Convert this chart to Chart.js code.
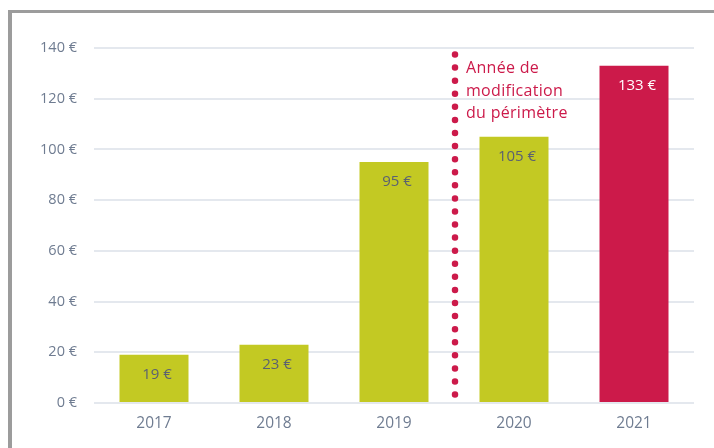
<!DOCTYPE html>
<html>
<head>
<meta charset="utf-8">
<script src="https://cdn.jsdelivr.net/npm/chart.js@4"></script>
<style>
  html, body { margin: 0; padding: 0; background: #fff; }
  #wrap { position: relative; width: 714px; height: 448px; }
  #frame { position: absolute; left: 8px; top: 10px; width: 720px; height: 460px;
           border-left: 4px solid #9c9c9c; border-top: 3px solid #9c9c9c; box-sizing: border-box; }
  canvas { position: absolute; left: 0; top: 0; }
</style>
</head>
<body>
<div id="wrap">
  <div id="frame"></div>
  <canvas id="c" width="714" height="448"></canvas>
</div>
<script>
const categories = ['2017', '2018', '2019', '2020', '2021'];
const values = [19, 23, 95, 105, 133];
const valueLabels = ['19 €', '23 €', '95 €', '105 €', '133 €'];
const yTicks = [0, 20, 40, 60, 80, 100, 120, 140];
const annotationLines = ['Année de', 'modification', 'du périmètre'];
const changeAfterCategory = '2019';

const GREEN = '#c3c923';
const RED = '#cc1a4a';
const FONT = '"Open Sans", Lato, sans-serif';

const barColors = categories.map((c, i) => i === categories.length - 1 ? RED : GREEN);
const labelColors = categories.map((c, i) => i === categories.length - 1 ? '#ffffff' : '#5b6171');

const overlay = {
  id: 'overlay',
  afterDatasetsDraw(chart) {
    const ctx = chart.ctx;
    const meta = chart.getDatasetMeta(0);
    ctx.save();
    ctx.font = '15px ' + FONT;
    ctx.textAlign = 'center';
    ctx.textBaseline = 'middle';
    meta.data.forEach((bar, i) => {
      ctx.fillStyle = labelColors[i];
      ctx.fillText(valueLabels[i], bar.x + 3, bar.y + 20);
    });
    // dotted separator
    const xs = chart.scales.x;
    const idx = categories.indexOf(changeAfterCategory) + 0.5;
    const x = xs.getPixelForValue(idx) + 1;
    const area = chart.chartArea;
    ctx.strokeStyle = RED;
    ctx.lineWidth = 6.5;
    ctx.lineCap = 'round';
    ctx.setLineDash([0, 13.08]);
    ctx.beginPath();
    ctx.moveTo(x, area.top + 6.5);
    ctx.lineTo(x, area.bottom - 8);
    ctx.stroke();
    ctx.setLineDash([]);
    ctx.fillStyle = RED;
    ctx.font = '16px ' + FONT;
    ctx.textAlign = 'left';
    ctx.textBaseline = 'alphabetic';
    try { ctx.letterSpacing = '0.3px'; } catch (e) {}
    annotationLines.forEach((t, i) => {
      ctx.fillText(t, x + 11, area.top + 25 + i * 22.5);
    });
    ctx.restore();
  }
};

new Chart(document.getElementById('c'), {
  type: 'bar',
  data: {
    labels: categories,
    datasets: [{
      data: values,
      backgroundColor: barColors,
      borderWidth: 0,
      barPercentage: 0.575,
      categoryPercentage: 1
    }]
  },
  options: {
    responsive: false,
    animation: false,
    devicePixelRatio: 1,
    layout: { padding: { left: 0, right: 20, top: 48, bottom: 0 } },
    plugins: { legend: { display: false }, tooltip: { enabled: false } },
    scales: {
      x: {
        grid: { display: false, drawTicks: false },
        border: { display: false },
        ticks: { color: '#6f7c91', font: { family: FONT, size: 15.5 }, padding: 11 },
        afterFit(s) { s.height = 45; }
      },
      y: {
        min: 0, max: 140,
        afterBuildTicks(s) { s.ticks = yTicks.map(v => ({ value: v })); },
        grid: { color: '#e4e8ee', lineWidth: 2, drawTicks: false },
        border: { display: false },
        ticks: { color: '#6f7c91', font: { family: FONT, size: 14.5 }, padding: 17,
                 callback: v => v + ' €' },
        afterFit(s) { s.width = 94; }
      }
    }
  },
  plugins: [overlay]
});
</script>
</body>
</html>
